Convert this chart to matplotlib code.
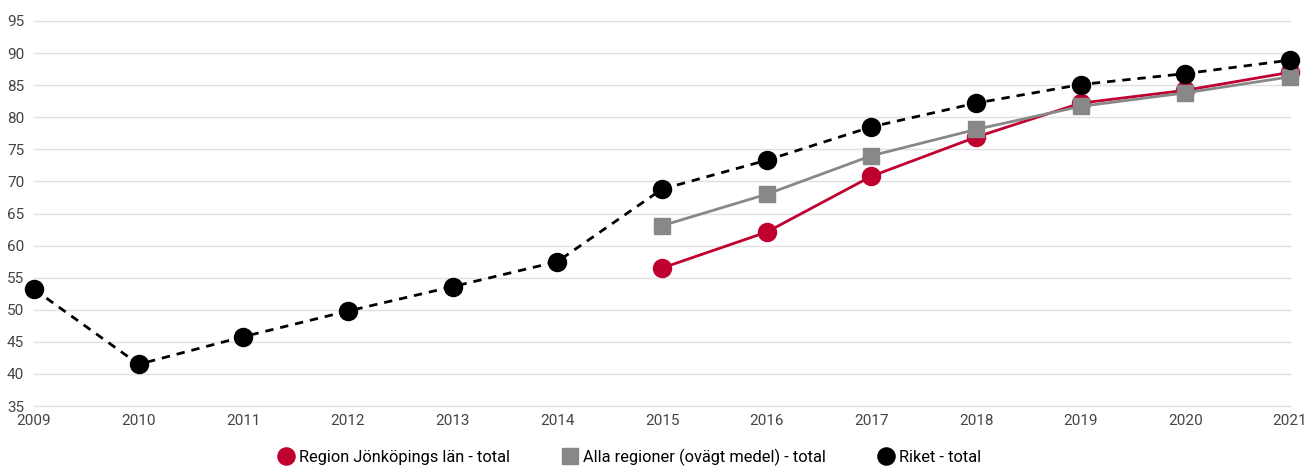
import matplotlib.pyplot as plt

plt.rcParams['font.family'] = ['Roboto', 'DejaVu Sans']

# data
years = list(range(2009, 2022))
riket = [53.2, 41.5, 45.8, 49.8, 53.6, 57.5, 68.8, 73.3, 78.5, 82.2, 85.1, 86.8, 88.9]
reg_years = list(range(2015, 2022))
jonkoping = [56.5, 62.1, 70.8, 76.9, 82.2, 84.2, 87.0]
alla = [63.1, 68.0, 74.0, 78.1, 81.7, 83.8, 86.3]

RED = '#c0002f'
GREY = '#888888'

fig = plt.figure(figsize=(13.07, 4.67), dpi=100)
ax = fig.add_axes([34 / 1307, 1 - 406 / 467, (1290 - 34) / 1307, (406 - 21) / 467])

ax.plot(reg_years, jonkoping, color=RED, lw=2, marker='o', ms=13, zorder=3, clip_on=False,
        label='Region Jönköpings län - total')
ax.plot(reg_years, alla, color=GREY, lw=2, marker='s', ms=12, zorder=4, clip_on=False,
        label='Alla regioner (ovägt medel) - total')
ax.plot(years, riket, color='black', lw=2, ls=(0, (3, 2.5)), marker='o', ms=13, zorder=5,
        clip_on=False, label='Riket - total')

ax.set_xlim(2009, 2021)
ax.set_ylim(35, 95)
ax.set_xticks(years)
ax.set_yticks(range(35, 96, 5))
ax.grid(axis='y', color='#e0e0e0', lw=1)
for gl in ax.get_ygridlines():
    gl.set_clip_on(False)
ax.set_axisbelow(True)
for s in ax.spines.values():
    s.set_visible(False)
ax.tick_params(length=0, labelsize=11, colors='#444444', pad=6)
ax.tick_params(axis='y', pad=7)

leg = fig.legend(loc='center', bbox_to_anchor=(0.482, 1 - 457 / 467), ncol=3, frameon=False,
                 fontsize=11.8, markerscale=0.95, handlelength=0.9, handletextpad=0.35,
                 columnspacing=3.2)
for h in leg.get_lines():
    h.set_linestyle('none')

fig.savefig('out.png', dpi=100)
